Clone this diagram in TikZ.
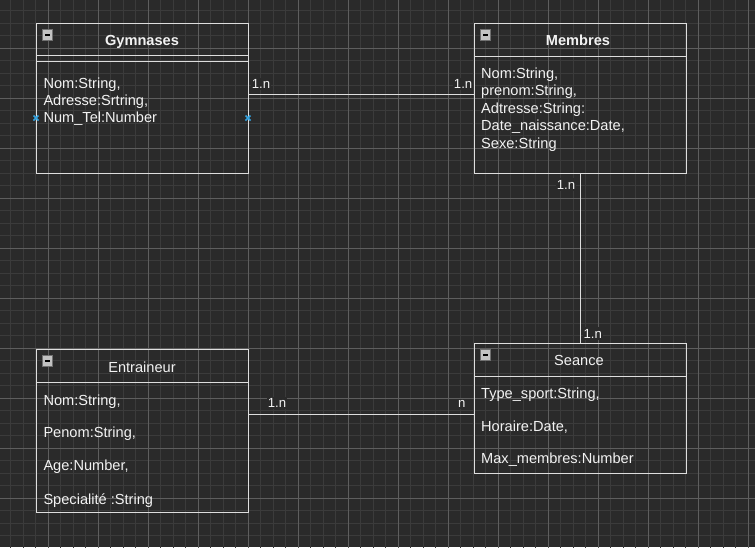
\documentclass[tikz,border=0pt]{standalone}
\usepackage{fontspec}
\setmainfont{Liberation Sans}
\newlength{\du}
\setlength{\du}{1\unitlength}

\begin{document}
\begin{tikzpicture}[
  classbox/.style={draw=boxline, line width=1\du, inner sep=0pt, outer sep=0pt},
  boxrule/.style={draw=boxline, line width=1\du},
  link/.style={draw=boxline, line width=1\du},
  classtitle/.style={anchor=base, inner sep=0pt, text=fgtext, font=\fontsize{14.6}{17}\selectfont},
  attr/.style={anchor=base west, inner sep=0pt, text=fgtext, font=\fontsize{14.6}{17}\selectfont},
  mult/.style={inner xsep=1\du, inner ysep=1.5\du, fill=bgcolor, text=fgtext, font=\fontsize{13.2}{15}\selectfont},
  minorgrid/.style={draw=gridminor, line width=1\du},
  majorgrid/.style={draw=gridmajor, line width=1\du},
  pinmark/.style={draw=pinblue, line width=1.6\du}
]
\pgftransformxscale{1.000000}
\pgftransformyscale{-1.000000}
\definecolor{bgcolor}{rgb}{0.165, 0.165, 0.165}
\definecolor{gridminor}{rgb}{0.230, 0.230, 0.230}
\definecolor{gridmajor}{rgb}{0.370, 0.370, 0.370}
\definecolor{boxline}{rgb}{0.870, 0.870, 0.870}
\definecolor{fgtext}{rgb}{0.950, 0.950, 0.950}
\definecolor{pinblue}{rgb}{0.200, 0.640, 0.880}
\definecolor{iconfill}{rgb}{0.760, 0.760, 0.760}
\definecolor{iconline}{rgb}{0.440, 0.440, 0.440}
\useasboundingbox (0\du,0\du) rectangle (755\du,547\du);
\fill[bgcolor] (0\du,0\du) rectangle (755\du,547\du);
\begin{scope}
\clip (0\du,0\du) rectangle (755\du,547\du);
\draw[minorgrid, shift={(10.5\du,10.5\du)}] (-12.5\du,-12.5\du) grid[step=12.5\du] (750\du,550\du);
\draw[majorgrid, shift={(48\du,48\du)}] (-50\du,-50\du) grid[step=50\du] (750\du,550\du);
\end{scope}
% classes
\node[classbox, minimum width=212\du, minimum height=150\du] (gymnases) at (142\du,98\du) {};
\node[classbox, minimum width=212\du, minimum height=150\du] (membres) at (580\du,98\du) {};
\node[classbox, minimum width=212\du, minimum height=163\du] (entraineur) at (142\du,430.5\du) {};
\node[classbox, minimum width=212\du, minimum height=130\du] (seance) at (580\du,408\du) {};
\draw[boxrule] (36\du,55\du)--(248\du,55\du);
\draw[boxrule] (36\du,61\du)--(248\du,61\du);
\draw[boxrule] (474\du,56\du)--(686\du,56\du);
\draw[boxrule] (36\du,382\du)--(248\du,382\du);
\draw[boxrule] (474\du,376\du)--(686\du,376\du);
\foreach \bx/\by in {36/23, 474/23, 36/349, 474/343}{
\begin{scope}[shift={(\bx\du,\by\du)}]
\draw[fill=iconfill, draw=iconline, line width=1\du] (6\du,6.5\du) rectangle (16.5\du,17\du);
\fill[black] (8.5\du,11\du) rectangle (14\du,12.6\du);
\end{scope}
}
% titles
\node[classtitle, font=\fontsize{14.6}{17}\selectfont\bfseries] (gymnasestitle) at (142\du,45.5\du) {Gymnases};
\node[classtitle, font=\fontsize{14.6}{17}\selectfont\bfseries] (membrestitle) at (578\du,45\du) {Membres};
\node[classtitle] (entraineurtitle) at (142\du,372\du) {Entraineur};
\node[classtitle] (seancetitle) at (579\du,365.5\du) {Seance};
% attributes
\node[attr] (g1) at (43.3\du,88.4\du) {Nom:String,};
\node[attr] (g2) at (43.3\du,105.6\du) {Adresse:Srtring,};
\node[attr] (g3) at (43.3\du,122.8\du) {Num\_Tel:Number};
\node[attr] (m1) at (481\du,78.3\du) {Nom:String,};
\node[attr] (m2) at (481\du,95.8\du) {prenom:String,};
\node[attr] (m3) at (481\du,113.3\du) {Adtresse:String:};
\node[attr] (m4) at (481\du,130.8\du) {Date\_naissance:Date,};
\node[attr] (m5) at (481\du,148.3\du) {Sexe:String};
\node[attr] (e1) at (43.3\du,405\du) {Nom:String,};
\node[attr] (e2) at (43.3\du,437.5\du) {Penom:String,};
\node[attr] (e3) at (43.3\du,470\du) {Age:Number,};
\node[attr] (e4) at (43.3\du,504\du) {Specialité :String};
\node[attr] (s1) at (481\du,398.3\du) {Type\_sport:String,};
\node[attr] (s2) at (481\du,431\du) {Horaire:Date,};
\node[attr] (s3) at (481\du,463.5\du) {Max\_membres:Number};
% pins
\draw[pinmark] (33.5\du,115.5\du)--(38.5\du,120.5\du) (33.5\du,120.5\du)--(38.5\du,115.5\du);
\draw[pinmark] (245.5\du,115.5\du)--(250.5\du,120.5\du) (245.5\du,120.5\du)--(250.5\du,115.5\du);
% associations
\draw[link] (gymnases.east |- 0,94.3\du) -- (membres.west |- 0,94.3\du);
\draw[link] (membres.south) -- (seance.north);
\draw[link] (entraineur.east |- 0,414.3\du) -- (seance.west |- 0,414.3\du);
\node[mult, anchor=base west] (gm1) at (250.7\du,88.7\du) {1.n};
\node[mult, anchor=base east] (gm2) at (473.5\du,88.7\du) {1.n};
\node[mult, anchor=base east] (ms1) at (576.3\du,189\du) {1.n};
\node[mult, anchor=base west] (ms2) at (582.3\du,338\du) {1.n};
\node[mult, anchor=base west] (es1) at (266.7\du,407.7\du) {1.n};
\node[mult, anchor=base west] (es2) at (457\du,407.7\du) {n};
\end{tikzpicture}
\end{document}
